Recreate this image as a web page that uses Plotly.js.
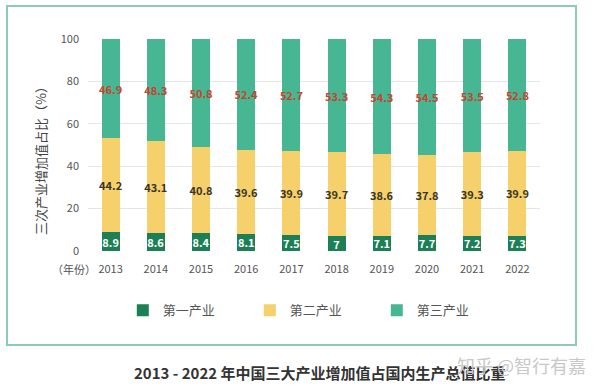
<!DOCTYPE html>
<html><head><meta charset="utf-8">
<script src="https://cdn.plot.ly/plotly-3.0.1.min.js"></script>
<style>body{margin:0;background:#fff}#chart{width:600px;height:390px}</style>
</head><body><div id="chart"></div>
<script>
const years = ['2013','2014','2015','2016','2017','2018','2019','2020','2021','2022'];
const primary = [8.9, 8.6, 8.4, 8.1, 7.5, 7, 7.1, 7.7, 7.2, 7.3];
const secondary = [44.2, 43.1, 40.8, 39.6, 39.9, 39.7, 38.6, 37.8, 39.3, 39.9];
const tertiary = [46.9, 48.3, 50.8, 52.4, 52.7, 53.3, 54.3, 54.5, 53.5, 52.8];
const seriesNames = ['第一产业', '第二产业', '第三产业'];
const yTicks = [0, 20, 40, 60, 80, 100];

const font = 'Noto Sans CJK SC, Liberation Sans, sans-serif';
function tr(name, vals, color, tcolor) {
  return {type:'bar', name:name, x:years, y:vals, marker:{color:color},
    text:vals.map(String), textposition:'inside', insidetextanchor:'middle',
    textangle:0, constraintext:'none',
    textfont:{color:tcolor, size:11, family:font, weight:'bold'}, hoverinfo:'skip'};
}
const data = [
  tr(seriesNames[0], primary, '#1d7f55', '#ffffff'),
  tr(seriesNames[1], secondary, '#f5d06b', '#3a3526'),
  tr(seriesNames[2], tertiary, '#46b792', '#c8432e')
];
const layout = {
  width:600, height:390, paper_bgcolor:'#fff', plot_bgcolor:'#fff',
  margin:{l:88, r:60, t:39, b:139},
  barmode:'stack', bargap:0.6, showlegend:true,
  font:{family:font, color:'#555'},
  xaxis:{type:'category', showgrid:false, zeroline:false, showline:false, ticks:'',
    tickfont:{size:11, color:'#555'}, ticklabelstandoff:10},
  yaxis:{range:[0,100], tickvals:yTicks, showgrid:true, gridcolor:'#e6e6e6', zeroline:false,
    ticks:'', tickfont:{size:11, color:'#555'}, ticklabelstandoff:8},
  legend:{orientation:'h', x:0.077, y:-0.28, xanchor:'left', yanchor:'middle',
    entrywidth:82, entrywidthmode:'pixels', traceorder:'normal',
    font:{size:13, color:'#555'}, itemwidth:30},
  title:{text:'<b>2013 - 2022 年中国三大产业增加值占国内生产总值比重</b>', x:0.533, xanchor:'center',
    y:1-374/390, yanchor:'middle', yref:'container', font:{size:15, color:'#333'}},
  shapes:[{type:'rect', xref:'paper', yref:'paper', x0:(7-88)/452, x1:(576-88)/452,
    y0:(251-345)/212, y1:(251-6)/212, line:{color:'#8ccbb9', width:2}, fillcolor:'rgba(0,0,0,0)', layer:'below'}],
  annotations:[
    {text:'三次产业增加值占比（%）', xref:'paper', yref:'paper', x:(40-88)/452, y:(251-158)/212,
      textangle:-90, showarrow:false, xanchor:'center', yanchor:'middle', font:{size:13, color:'#444'}},
    {text:'（年份）', xref:'paper', yref:'paper', x:(74-88)/452, y:(251-269)/212, showarrow:false,
      xanchor:'center', yanchor:'middle', font:{size:11, color:'#555'}},
    {text:'知乎 @智行有嘉', xref:'paper', yref:'paper', x:(521-88)/452, y:(251-365)/212, showarrow:false,
      xanchor:'center', yanchor:'middle', font:{size:18, color:'#c8c8c8'}}
  ]
};
Plotly.newPlot('chart', data, layout, {displayModeBar:false, staticPlot:true});
</script></body></html>
